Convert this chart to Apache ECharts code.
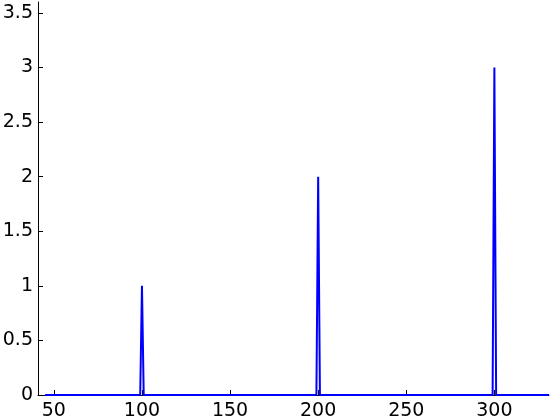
<!DOCTYPE html>
<html>
<head>
<meta charset="utf-8">
<script src="https://cdn.jsdelivr.net/npm/echarts@6/dist/echarts.min.js"></script>
<style>
  html, body { margin: 0; padding: 0; background: #fff; }
  #chart { width: 560px; height: 420px; }
</style>
</head>
<body>
<div id="chart"></div>
<script>
// 信号数据：基线为0，在100/200/300处有脉冲
const xValues = [45, 99, 100, 101, 199, 200, 201, 299, 300, 301, 331];
const yValues = [0, 0, 1, 0, 0, 2, 0, 0, 3, 0, 0];
const xTicks = [50, 100, 150, 200, 250, 300];
const yTicks = [0, 0.5, 1, 1.5, 2, 2.5, 3, 3.5];

const chart = echarts.init(document.getElementById("chart"));

const labelStyle = {
  color: "#000",
  fontFamily: "DejaVu Sans",
  fontSize: 19,
};

const option = {
  animation: false,
  grid: {
    left: 38, right: 11, top: 2, bottom: 25,
    containLabel: false,
    outerBoundsMode: "none", // 不让标签挤压绘图区
  },
  xAxis: {
    type: "value",
    min: 41,
    max: 331,
    axisLine: { show: true, lineStyle: { color: "#000", width: 1 } },
    axisTick: { show: true, inside: true, length: 5, customValues: xTicks, lineStyle: { color: "#000" } },
    axisLabel: Object.assign({ customValues: xTicks, margin: 7 }, labelStyle),
    splitLine: { show: false },
  },
  yAxis: {
    type: "value",
    min: 0,
    max: 3.6,
    axisLine: { show: true, lineStyle: { color: "#000", width: 1 } },
    axisTick: { show: true, inside: true, length: 5, customValues: yTicks, lineStyle: { color: "#000" } },
    axisLabel: Object.assign({ customValues: yTicks, margin: 5 }, labelStyle),
    splitLine: { show: false },
  },
  series: [
    {
      type: "line",
      data: xValues.map((x, i) => [x, yValues[i]]),
      showSymbol: false,
      lineStyle: { color: "#0000ff", width: 2 },
    },
  ],
};

chart.setOption(option);
</script>
</body>
</html>
